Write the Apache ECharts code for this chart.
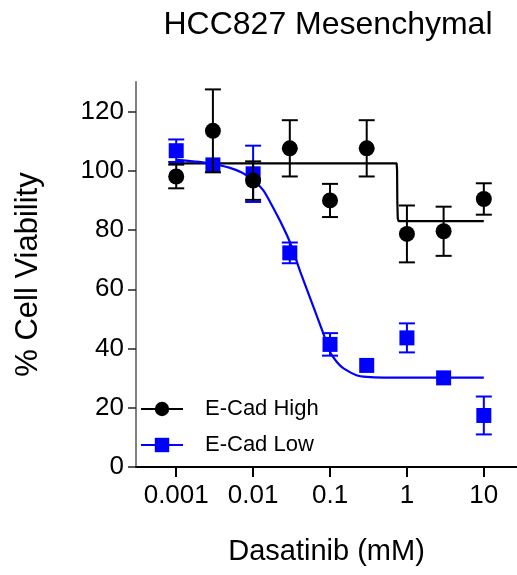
<!DOCTYPE html>
<html>
<head>
<meta charset="utf-8">
<script src="https://cdn.jsdelivr.net/npm/echarts@6/dist/echarts.min.js"></script>
<style>
html,body{margin:0;padding:0;background:#fff;}
#chart{width:517px;height:575px;}
</style>
</head>
<body>
<div id="chart"></div>
<script>
// ---- data ----
const doses = [0.001, 0.003, 0.01, 0.03, 0.1, 0.3, 1, 3, 10];
const highMean = [98.1, 113.5, 96.7, 107.6, 90.0, 107.6, 78.7, 79.6, 90.5];
const highErr  = [4.0, 14.0, 6.5, 9.5, 5.6, 9.5, 9.6, 8.3, 5.3];
const lowMean  = [106.8, 102.0, 99.0, 72.3, 41.4, 34.3, 43.6, 30.1, 17.4];
const lowErr   = [3.8, 0, 9.5, 3.5, 3.8, 0, 4.9, 0, 6.4];
// fitted curves
const highFitX = [0.0008, 0.735, 0.745, 0.75, 0.76, 0.78, 10];
const highFitY = [102.5, 102.5, 100, 90, 84, 83, 83];
const lowFitX = [0.001, 0.002, 0.003, 0.005, 0.007, 0.01, 0.0135, 0.0166, 0.022, 0.03, 0.041, 0.06, 0.082, 0.1, 0.125, 0.15, 0.22, 0.3, 0.5, 1, 10];
const lowFitY = [103.7, 103.0, 102.3, 101, 99.5, 97, 93.5, 89.5, 83.5, 76, 66, 54.5, 45, 38.8, 35.2, 33.3, 31.0, 30.4, 30.2, 30.2, 30.2];
const xTickValues = [0.001, 0.01, 0.1, 1, 10];
const xTickLabels = ['0.001', '0.01', '0.1', '1', '10'];
const yTickValues = [0, 20, 40, 60, 80, 100, 120];
const seriesNames = ['E-Cad High', 'E-Cad Low'];
const titleText = 'HCC827 Mesenchymal';
const xName = 'Dasatinib (mM)';
const yName = '% Cell Viability';

const FONT = 'Liberation Sans, Arial, sans-serif';
const BLACK = '#000000';
const BLUE = '#0000ff';

function zip(xs, ys) { return xs.map((x, i) => [x, ys[i]]); }
function errData(xs, m, e) { return xs.map((x, i) => [x, m[i], e[i]]); }

function errRender(color) {
  return function (params, api) {
    const x = api.value(0), y = api.value(1), e = api.value(2);
    if (!e) return null;
    const top = api.coord([x, y + e]);
    const bot = api.coord([x, y - e]);
    const hw = 8;
    const style = { stroke: color, lineWidth: 2 };
    return {
      type: 'group',
      children: [
        { type: 'line', shape: { x1: top[0], y1: top[1], x2: bot[0], y2: bot[1] }, style },
        { type: 'line', shape: { x1: top[0] - hw, y1: top[1], x2: top[0] + hw, y2: top[1] }, style },
        { type: 'line', shape: { x1: bot[0] - hw, y1: bot[1], x2: bot[0] + hw, y2: bot[1] }, style }
      ]
    };
  };
}

const chart = echarts.init(document.getElementById('chart'));
chart.setOption({
  backgroundColor: '#ffffff',
  animation: false,
  title: {
    text: titleText,
    left: 323,
    textAlign: 'center',
    top: 4,
    textStyle: { fontFamily: FONT, fontSize: 32, fontWeight: 'normal', color: BLACK }
  },
  grid: { left: 136, right: 0, top: 82, bottom: 108 },
  legend: {
    data: seriesNames,
    orient: 'vertical',
    left: 140,
    top: 398,
    padding: 0,
    itemWidth: 42,
    itemHeight: 18,
    itemGap: 14,
    textStyle: { fontFamily: FONT, fontSize: 22, color: BLACK, padding: [0, 0, 0, 17] }
  },
  xAxis: {
    type: 'log',
    logBase: 10,
    min: 0.0003,
    max: 27,
    name: xName,
    nameLocation: 'middle',
    nameGap: 70,
    nameTextStyle: { fontFamily: FONT, fontSize: 29, color: BLACK },
    axisLine: { lineStyle: { color: BLACK, width: 2 } },
    axisTick: { customValues: xTickValues, length: 10, lineStyle: { color: BLACK, width: 2 } },
    axisLabel: {
      customValues: xTickValues,
      margin: 16,
      fontFamily: FONT, fontSize: 26, color: BLACK,
      formatter: v => xTickLabels[Math.round(Math.log10(v)) + 3]
    },
    splitLine: { show: false },
    minorTick: { show: false }
  },
  yAxis: {
    type: 'value',
    min: 0,
    max: 130,
    name: yName,
    nameLocation: 'middle',
    nameGap: 92,
    nameTextStyle: { fontFamily: FONT, fontSize: 31, color: BLACK },
    axisLine: { show: true, lineStyle: { color: '#808080', width: 2 } },
    axisTick: { show: true, customValues: yTickValues, length: 8, lineStyle: { color: '#222', width: 1.5 } },
    axisLabel: { customValues: yTickValues, margin: 12, fontFamily: FONT, fontSize: 26, color: BLACK },
    splitLine: { show: false }
  },
  series: [
    {
      name: seriesNames[0], type: 'line', data: zip(highFitX, highFitY),
      symbol: 'circle', showSymbol: false, color: BLACK,
      lineStyle: { color: BLACK, width: 2.2 }, z: 2
    },
    {
      name: seriesNames[1], type: 'line', data: zip(lowFitX, lowFitY),
      symbol: 'rect', showSymbol: false, color: BLUE, smooth: 0.3,
      lineStyle: { color: BLUE, width: 2.2 }, z: 2
    },
    {
      type: 'custom', renderItem: errRender(BLUE), data: errData(doses, lowMean, lowErr), z: 3
    },
    {
      type: 'scatter', data: zip(doses, lowMean), symbol: 'rect', symbolSize: 15,
      itemStyle: { color: BLUE, opacity: 1 }, z: 4
    },
    {
      type: 'custom', renderItem: errRender(BLACK), data: errData(doses, highMean, highErr), z: 5
    },
    {
      type: 'scatter', data: zip(doses, highMean), symbol: 'circle', symbolSize: 16,
      itemStyle: { color: BLACK, opacity: 1 }, z: 6
    }
  ]
});
</script>
</body>
</html>
